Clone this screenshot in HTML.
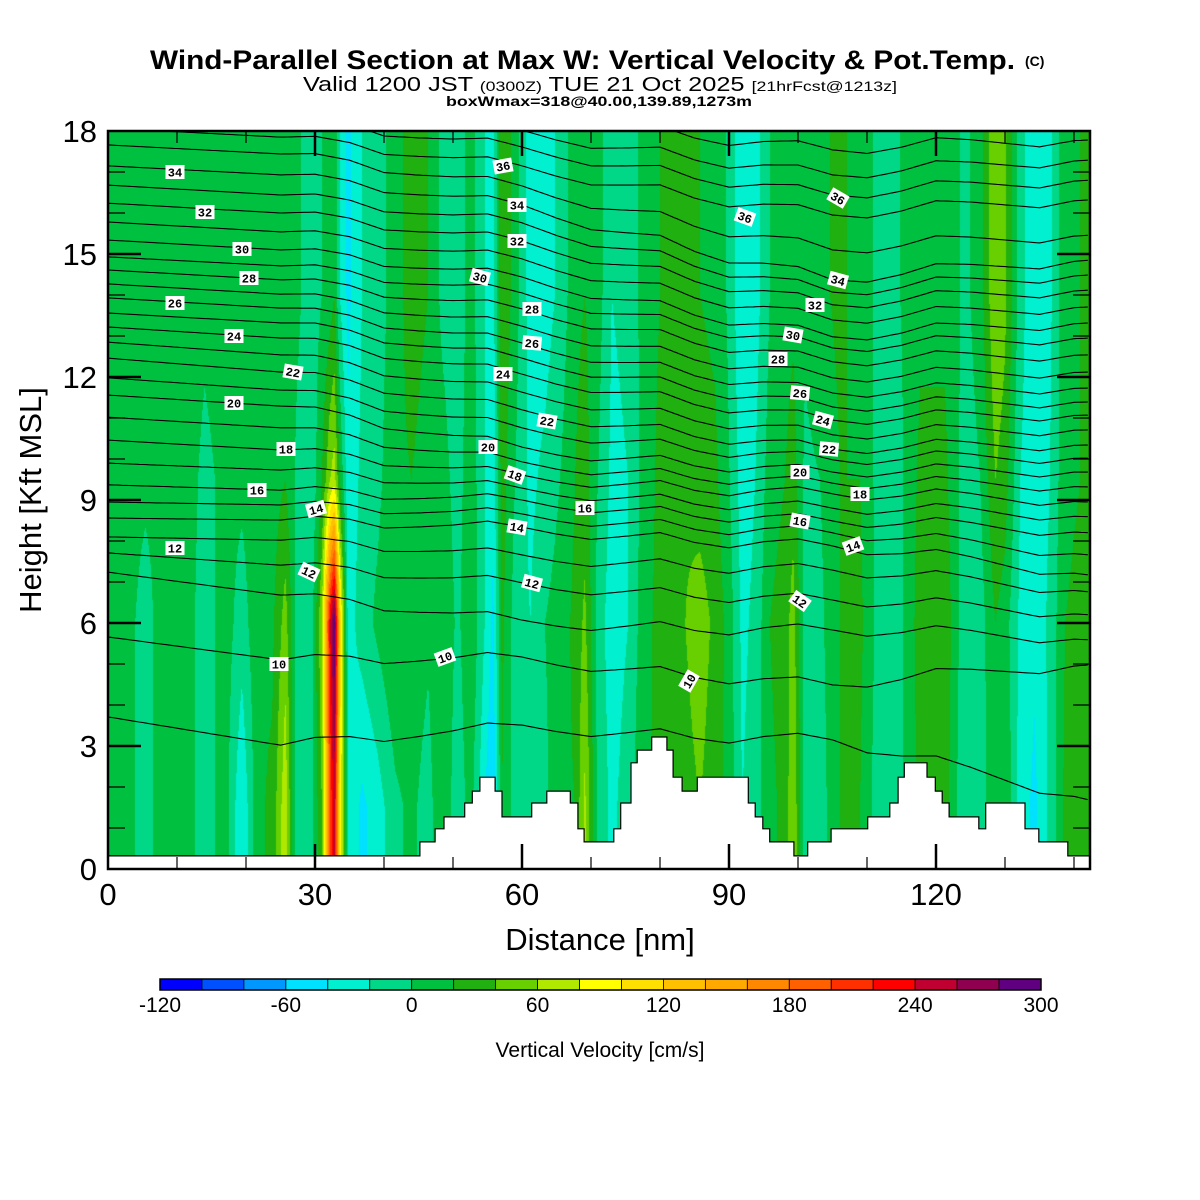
<!DOCTYPE html>
<html><head><meta charset="utf-8"><style>
html,body{margin:0;padding:0;background:#fff;}
#wrap{position:relative;width:1200px;height:1200px;overflow:hidden;font-family:"Liberation Sans",sans-serif;}
#field{position:absolute;left:108px;top:131px;}
#svg{position:absolute;left:0;top:0;}
</style></head><body>
<div id="wrap">
<canvas id="field" width="982" height="738"></canvas>
<svg id="svg" width="1200" height="1200" xmlns="http://www.w3.org/2000/svg">
<g>
<text x="150" y="69" font-size="27" font-weight="bold" textLength="865" lengthAdjust="spacingAndGlyphs">Wind-Parallel Section at Max W: Vertical Velocity &amp; Pot.Temp.</text>
<text x="1025" y="66" font-size="14" font-weight="bold">(C)</text>
<text x="303" y="91" font-size="20" textLength="594" lengthAdjust="spacingAndGlyphs">Valid 1200 JST <tspan font-size="14">(0300Z)</tspan> TUE 21 Oct 2025 <tspan font-size="14">[21hrFcst@1213z]</tspan></text>
<text x="446" y="106" font-size="14" font-weight="bold" textLength="306" lengthAdjust="spacingAndGlyphs">boxWmax=318@40.00,139.89,1273m</text>
</g>
<g id="contours"></g>
<g id="terrain"></g>
<g id="clabels"></g>
<g id="axes"></g>
<text x="600" y="950" font-size="31" text-anchor="middle">Distance [nm]</text>
<text x="0" y="0" font-size="31" text-anchor="middle" transform="translate(41,500) rotate(-90)">Height [Kft MSL]</text>
<g id="cbar"></g>
<text x="600" y="1057" font-size="21" text-anchor="middle">Vertical Velocity [cm/s]</text>
</svg>
</div>
<script>
// ---------- data ----------
const colNm = [0,2.5,5.4,8.3,11.2,14,17,19.4,21.7,23.8,25.7,27.4,29.3,31,32.2,32.8,33.6,34.8,36.8,39.1,41.6,44,46.4,48.4,50.7,52.5,54.6,55.8,57.1,59,61.2,63.3,65.5,67.7,69.1,71,73,75.4,77.8,80,82.6,85.8,88,90.1,91.9,93.8,95.9,98.1,99.3,101,103.2,106.1,109,111.9,114.8,117.7,121.3,124.2,126.4,128.6,130,132.2,134.3,136.5,138.7,140.9,142.3];
const levelKft = [1.5, 6, 9.5, 14];
const wLow = [10,10,-10,15,10,-10,10,-40,15,25,75,-20,-15,40,200,250,100,-20,-45,-30,-5,5,-10,20,-15,10,-40,-60,20,-10,-15,-5,15,20,65,-5,-25,-10,20,20,30,40,30,10,-20,-10,15,25,60,-10,-10,20,20,-15,-5,25,30,-20,-10,15,20,-30,-45,-15,25,30,20];
const wMid = [10,10,-10,15,10,-10,10,-10,15,15,50,-10,-20,60,240,300,120,-30,-10,5,20,15,5,20,-5,20,-20,-45,25,-10,-20,0,10,25,45,-10,-30,-20,15,25,35,50,35,10,-25,-15,20,30,50,-10,-5,20,25,-10,-5,30,35,-15,-10,20,10,-25,-35,-15,20,25,20];
const wUp = [10,10,5,5,10,-5,5,5,10,10,20,-5,-20,20,60,70,20,-35,-15,-5,15,20,10,10,-10,15,-20,-35,30,0,-25,-15,0,20,30,0,-25,-20,10,25,40,30,25,0,-30,-20,10,20,30,-5,0,20,20,-10,-5,25,25,-10,0,40,30,-20,-35,-20,15,20,20];
const wTop = [10,10,10,10,10,5,10,5,10,10,10,5,-10,0,10,20,-20,-45,-20,-10,10,30,20,-5,-15,10,-20,-30,40,10,-30,-30,-15,15,20,10,-20,-15,10,20,40,20,15,-5,-40,-30,0,10,15,5,15,25,10,-5,0,15,15,-5,10,60,45,-10,-40,-25,15,20,20];
const cbTicks = [-120,-60,0,60,120,180,240,300];
const cbColors = ["#0000FF","#0050FF","#0098FF","#00E0FF","#00F0D0","#00D888","#00C040","#20B010","#68D000","#B0E800","#FFFF00","#FFE000","#FFC000","#FFA800","#FF8800","#FF6000","#FF3000","#FF0000","#C00030","#900050","#600080"];
const terrNm = [0,45.2,47.4,48.7,51.7,52.8,53.9,56.1,57.1,61.4,63.6,67.0,68.1,69.0,73.3,74.3,75.8,76.7,78.8,81.0,81.9,83.2,85.4,92.8,93.8,94.9,95.9,99.4,101.4,104.8,110.1,113.3,114.5,115.4,118.7,119.9,120.9,121.9,126.2,127.2,132.9,134.9,139.1];
const terrKft = [0.32,0.66,0.98,1.27,1.61,1.90,2.24,1.90,1.27,1.61,1.90,1.61,0.98,0.66,0.98,1.61,2.59,2.90,3.22,2.90,2.24,1.90,2.24,1.61,1.27,0.98,0.66,0.32,0.66,0.98,1.27,1.61,2.24,2.59,2.24,1.90,1.61,1.27,0.98,1.61,0.98,0.66,0.32];
const thetaLevels = [39,38,37,36,35,34,33,32,31,30,29,28,27,26,25,24,23,22,21,20,19,18,17,16,15,14,13,12,11,10,9];
const knotNm = [0,25,60,105,142.3];
const thetaKft = [
[19.32,19.12,18.46,17.54,17.78],[18.90,18.70,18.02,16.93,17.29],[18.49,18.29,17.61,16.44,16.80],
[18.07,17.85,17.15,15.95,16.32],[17.66,17.44,16.66,15.10,15.46],[17.15,16.93,16.20,14.37,14.85],
[16.68,16.44,15.76,14.07,14.49],[16.24,16.00,15.32,13.76,14.12],[15.78,15.54,14.88,13.39,13.71],
[15.34,15.10,14.44,12.98,13.32],[14.93,14.71,14.05,12.71,12.95],[14.61,14.37,13.66,12.37,12.54],
[14.27,14.02,13.24,11.98,12.12],[13.93,13.68,12.83,11.61,11.73],[13.56,13.32,12.46,11.27,11.39],
[13.22,12.95,12.07,10.95,11.07],[12.85,12.54,11.63,10.59,10.71],[12.46,12.12,11.20,10.24,10.34],
[11.98,11.68,10.76,9.98,10.02],[11.56,11.29,10.29,9.68,9.68],[11.02,10.76,9.93,9.41,9.32],
[10.46,10.22,9.61,9.15,8.95],[9.90,9.73,9.29,8.80,8.59],[9.37,9.24,9.00,8.49,8.20],
[8.95,8.88,8.66,8.20,7.66],[8.56,8.51,8.34,7.88,7.17],[8.10,8.02,7.66,7.29,6.76],
[7.71,7.41,6.98,6.56,6.20],[7.24,6.68,6.07,5.83,5.59],[5.66,5.10,5.17,4.49,4.98],
[3.71,3.02,3.51,3.15,1.68]];
const waveNm = [0,5,10,15,20,25,30,35,40,45,50,55,60,65,70,75,80,85,90,95,100,105,110,115,120,125,130,135,140];
const waveKft = [0,0,0,0,0,0,0.12,0.07,-0.12,-0.07,0,0.12,0,-0.12,-0.2,-0.07,0.07,-0.12,-0.2,0,0.12,0,-0.12,0,0.2,0.12,0,-0.12,0];
const labelText = ["34","32","30","28","26","24","22","20","18","16","14","12","12","10","10","36","34","32","30","28","26","24","22","20","18","14","12","16","10","36","36","34","32","30","28","26","24","22","20","18","16","14","12"];
const labelPx = [[175,172,0],[205,212,0],[242,249,0],[249,278,0],[175,303,0],[234,336,0],[293,372,10],[234,403,0],[286,449,0],[257,490,0],[316,509,-15],[175,548,0],[309,572,25],[279,664,0],[445,657,-20],[503,166,-10],[517,205,0],[517,241,0],[480,277,15],[532,309,0],[532,343,5],[503,374,0],[547,421,10],[488,447,0],[515,475,20],[517,527,10],[532,583,15],[585,508,0],[689,681,-60],[745,217,20],[838,198,30],[838,280,15],[815,305,0],[793,335,10],[778,359,0],[800,393,5],[823,420,15],[829,449,5],[800,472,0],[860,494,0],[800,521,10],[853,546,-20],[800,601,35]];

// ---------- axes ----------
const X0=108, X1=1090, Y0=869, Y1=131, PXNM=6.9, PXK=41;
const X = nm => X0 + nm*PXNM;
const Y = k => Y0 - k*PXK;
const NS="http://www.w3.org/2000/svg";
function mk(tag, attrs, parent){const e=document.createElementNS(NS,tag);for(const k in attrs)e.setAttribute(k,attrs[k]);parent.appendChild(e);return e;}
function lerpArr(xs, ys, x){
  if(x<=xs[0])return ys[0]; const n=xs.length; if(x>=xs[n-1])return ys[n-1];
  let i=0; while(xs[i+1]<x)i++; const t=(x-xs[i])/(xs[i+1]-xs[i]); return ys[i]+(ys[i+1]-ys[i])*t;
}

// ---------- field ----------
(function(){
  const cv=document.getElementById('field'); const ctx=cv.getContext('2d');
  const W=cv.width,H=cv.height; const img=ctx.createImageData(W,H);
  const rgb=cbColors.map(c=>[parseInt(c.substr(1,2),16),parseInt(c.substr(3,2),16),parseInt(c.substr(5,2),16)]);
  const lv=[wLow,wMid,wUp,wTop];
  for(let px=0;px<W;px++){
    const nm=(px+0.5)/PXNM;
    let i=0; while(i<colNm.length-2 && colNm[i+1]<nm)i++;
    const t=Math.max(0,Math.min(1,(nm-colNm[i])/(colNm[i+1]-colNm[i])));
    const prof=lv.map(a=>a[i]+(a[i+1]-a[i])*t);
    for(let py=0;py<H;py++){
      const k=(H-py-0.5)/PXK;
      const w=lerpArr(levelKft,prof,k);
      let b=Math.floor((w+120)/20);if(b<0)b=0;if(b>20)b=20;
      const o=(py*W+px)*4; img.data[o]=rgb[b][0];img.data[o+1]=rgb[b][1];img.data[o+2]=rgb[b][2];img.data[o+3]=255;
    }
  }
  ctx.putImageData(img,0,0);
})();

// ---------- contours ----------
(function(){
  const g=document.getElementById('contours');
  for(let j=0;j<thetaLevels.length;j++){
    let d="";
    for(let nm=0;nm<=142.3;nm+=0.5){
      const k=lerpArr(knotNm,thetaKft[j],nm)+lerpArr(waveNm,waveKft,nm);
      let y=Y(k); if(y<Y1)y=Y1; if(y>Y0)y=Y0;
      d+=(d?"L":"M")+X(nm).toFixed(1)+","+y.toFixed(1);
    }
    const p=mk('path',{d:d,fill:"none",stroke:"#000","stroke-width":"1.1"},g);
    
    
  }
})();

// ---------- terrain ----------
(function(){
  const g=document.getElementById('terrain');
  let d="M"+X(0)+","+Y(0)+"L"+X(0)+","+Y(terrKft[0]).toFixed(1);
  for(let i=0;i<terrNm.length;i++){
    const xe = i+1<terrNm.length ? terrNm[i+1] : 142.3;
    d+="L"+X(xe).toFixed(1)+","+Y(terrKft[i]).toFixed(1);
    if(i+1<terrNm.length) d+="L"+X(xe).toFixed(1)+","+Y(terrKft[i+1]).toFixed(1);
  }
  d+="L"+X(142.3)+","+Y(0)+"Z";
  const p=mk('path',{d:d,fill:"#fff",stroke:"#000","stroke-width":"1.2"},g);
  
  
})();

// ---------- contour labels ----------
(function(){
  const g=document.getElementById('clabels');
  for(let i=0;i<labelText.length;i++){
    const [x,y,a]=labelPx[i];
    const gg=mk('g',{transform:`translate(${x},${y}) rotate(${a})`},g);
    
    
    mk('rect',{x:-9.5,y:-7,width:19,height:14,fill:"#fff"},gg);
    const t=mk('text',{x:0,y:4.5,"font-size":"12","font-weight":"bold","text-anchor":"middle","font-family":"Liberation Mono, monospace"},gg);
    t.textContent=labelText[i];
  }
})();

// ---------- axes ----------
(function(){
  const g=document.getElementById('axes');
  const f=mk('rect',{x:X0,y:Y1,width:X1-X0,height:Y0-Y1,fill:"none",stroke:"#000","stroke-width":"2.5"},g);
  
  
  for(let nm=10;nm<=140;nm+=10){
    const maj=nm%30===0, L=maj?25:12;
    mk('line',{x1:X(nm),x2:X(nm),y1:Y0,y2:Y0-L,stroke:"#000","stroke-width":maj?2.5:1.2},g);
    mk('line',{x1:X(nm),x2:X(nm),y1:Y1,y2:Y1+L,stroke:"#000","stroke-width":maj?2.5:1.2},g);
  }
  for(let nm=0;nm<=120;nm+=30){
    const t=mk('text',{x:X(nm),y:905,"font-size":"31","text-anchor":"middle"},g);
    
    
    t.textContent=nm;
  }
  for(let k=1;k<18;k++){
    const maj=k%3===0, L=maj?33:17;
    mk('line',{x1:X0,x2:X0+L,y1:Y(k),y2:Y(k),stroke:"#000","stroke-width":maj?2.5:1.2},g);
    mk('line',{x1:X1,x2:X1-L,y1:Y(k),y2:Y(k),stroke:"#000","stroke-width":maj?2.5:1.2},g);
  }
  for(let k=0;k<=18;k+=3){
    const t=mk('text',{x:97,y:Y(k)+11,"font-size":"31","text-anchor":"end"},g);
    
    
    t.textContent=k;
  }
})();

// ---------- colorbar ----------
(function(){
  const g=document.getElementById('cbar');
  const cx0=160, cx1=1041, bw=(cx1-cx0)/cbColors.length;
  const CB = v => cx0 + (v+120)/420*(cx1-cx0);
  for(let i=0;i<cbColors.length;i++){
    const r=mk('rect',{x:(cx0+i*bw).toFixed(2),y:979,width:bw.toFixed(2),height:11,fill:cbColors[i],stroke:"#000","stroke-width":"0.8"},g);
    
    
  }
  mk('rect',{x:cx0,y:979,width:cx1-cx0,height:11,fill:"none",stroke:"#000","stroke-width":"1.5"},g);
  for(const v of cbTicks){
    const t=mk('text',{x:CB(v),y:1012,"font-size":"21","text-anchor":"middle"},g);
    
    
    t.textContent=v;
  }
})();
</script>
</body></html>
